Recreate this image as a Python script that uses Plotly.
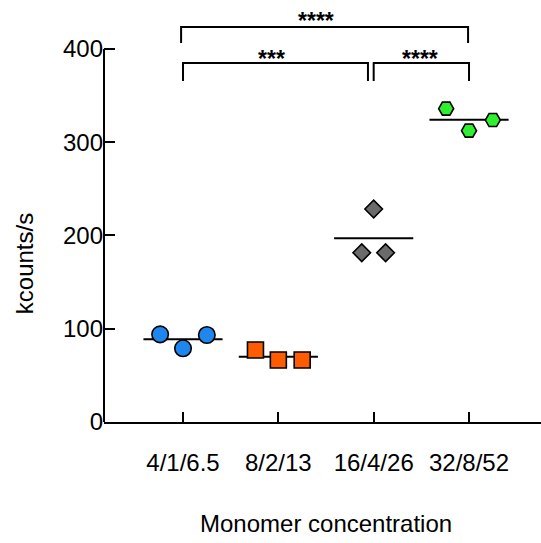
import plotly.graph_objects as go

categories = ["4/1/6.5", "8/2/13", "16/4/26", "32/8/52"]
vals_4 = [94.0, 79.0, 93.3]
vals_8 = [77.2, 66.5, 66.5]
vals_16 = [228.4, 181.5, 181.5]
vals_32 = [336.0, 312.4, 323.8]
groups = [vals_4, vals_8, vals_16, vals_32]

# layout / style parameters
offsets = [[-0.24, 0.0, 0.25], [-0.24, 0.0, 0.25], [0.0, -0.125, 0.125], [-0.24, 0.0, 0.25]]
colors = ["#1F86EE", "#FF5C00", "#6B6B6B", "#2EF02E"]
symbols = ["circle", "square", "diamond", "hexagon2"]
sizes = [16.5, 16, 13.5, 15]
FONT = "Liberation Sans, Arial, sans-serif"
FS = 24

fig = go.Figure()
half = 0.415
for i, vals in enumerate(groups):
    m = sum(vals) / len(vals)
    fig.add_trace(go.Scatter(x=[i - half, i + half], y=[m, m], mode="lines",
                             line=dict(color="black", width=2), showlegend=False,
                             hoverinfo="skip"))
for i, vals in enumerate(groups):
    fig.add_trace(go.Scatter(x=[i + o for o in offsets[i]], y=vals, mode="markers",
                             marker=dict(symbol=symbols[i], size=sizes[i], color=colors[i],
                                         line=dict(color="black", width=1.6)),
                             showlegend=False, cliponaxis=False))

# significance brackets
brackets = [
    (0.0, 1.94, 385, 365.6, "***", 0.923, 389),
    (2.0, 3.0, 385, 365.6, "****", 2.483, 389),
    (-0.02, 2.99, 423.5, 406.4, "****", 1.395, 430.5),
]
for x0, x1, ytop, ybot, txt, tx, ty in brackets:
    fig.add_shape(type="path", xref="x", yref="y",
                  path=f"M {x0} {ybot} L {x0} {ytop} L {x1} {ytop} L {x1} {ybot}",
                  line=dict(color="black", width=2))
    fig.add_annotation(x=tx, y=ty, xref="x", yref="y", text=f"<b>{txt}</b>", showarrow=False,
                       font=dict(family=FONT, size=23, color="black"),
                       xanchor="center", yanchor="middle")

# y axis line (0..400)
fig.add_shape(type="line", xref="paper", yref="y", x0=0, x1=0, y0=0, y1=400,
              line=dict(color="black", width=2))

fig.add_annotation(text="kcounts/s", xref="paper", yref="paper", x=-0.183, y=0.374,
                   xanchor="center", yanchor="middle",
                   textangle=-90, showarrow=False, font=dict(family=FONT, size=FS, color="black"))
fig.add_annotation(text="Monomer concentration", xref="x", yref="paper", x=1.5, y=-0.2417,
                   xanchor="center", yanchor="middle",
                   showarrow=False, font=dict(family=FONT, size=FS, color="black"))

fig.update_layout(
    width=541, height=543, margin=dict(l=104, r=0, t=0, b=121),
    plot_bgcolor="white", paper_bgcolor="white",
    font=dict(family=FONT, size=FS, color="black"),
)
fig.update_xaxes(range=[-0.8287, 3.755], tickvals=[0, 1, 2, 3], ticktext=categories,
                 showline=True, linecolor="black", linewidth=2, ticks="inside", ticklen=10,
                 tickwidth=2, tickcolor="black", showgrid=False, zeroline=False,
                 ticklabelstandoff=18, tickfont=dict(family=FONT, size=FS, color="black"))
fig.update_yaxes(range=[0, 452.5], tickvals=[0, 100, 200, 300, 400], showline=False,
                 ticks="inside", ticklen=11, tickwidth=2, tickcolor="black", showgrid=False,
                 zeroline=False, tickfont=dict(family=FONT, size=FS, color="black"))

fig.write_html("out.html")
